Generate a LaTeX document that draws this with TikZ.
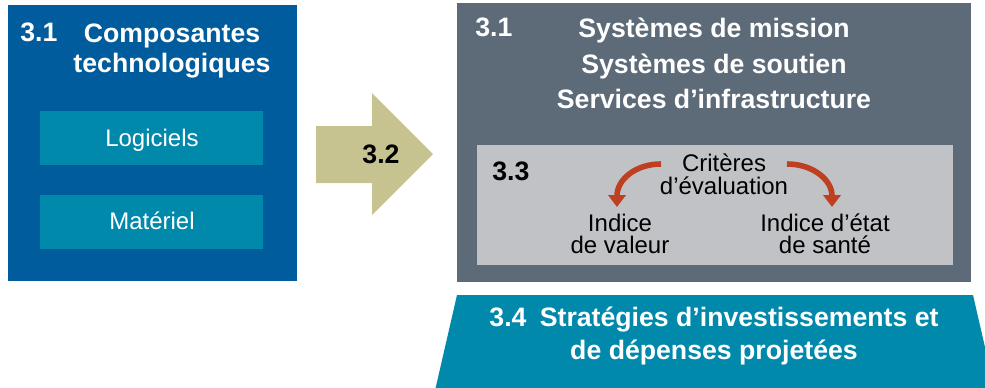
\documentclass[tikz,border=0pt]{standalone}
\usepackage{fontspec}
\setmainfont{Liberation Sans}
\usetikzlibrary{arrows.meta}
\definecolor{techblue}{RGB}{0,92,157}
\definecolor{tealbox}{RGB}{0,137,171}
\definecolor{khaki}{RGB}{199,195,145}
\definecolor{slategray}{RGB}{93,107,121}
\definecolor{palegray}{RGB}{192,194,198}
\definecolor{rust}{RGB}{190,64,33}
\tikzset{
  head/.style={font=\bfseries\fontsize{20}{24}\selectfont, text=white, inner sep=0pt, anchor=base},
  body/.style={font=\fontsize{18}{20}\selectfont, text=black, inner sep=0pt, anchor=base},
  critarrow/.style={draw=rust, line width=4.2pt, -{Triangle[width=13pt,length=9pt]}}
}

\begin{document}
\begin{tikzpicture}[x=0.75pt,y=-0.75pt]
\useasboundingbox (0,0) rectangle (985,387);
\clip (0,0) rectangle (985,387);
% composantes technologiques
\fill[techblue] (8,5) rectangle (297,281);
\fill[tealbox] (40,111) rectangle (263,165);
\fill[tealbox] (40,195) rectangle (263,249);
\node (numA) at (20,41)[head, anchor=base west] {3.1};
\node (comp) at (172,42)[head] {Composantes};
\node (techn) at (172,72)[head] {technologiques};
\node (logi) at (152,146)[body, text=white] {Logiciels};
\node (mat) at (152,229)[body, text=white] {Matériel};
% fleche 3.2
\fill[khaki] (316,126) -- (372,126) -- (372,93) -- (433,154) -- (372,215) -- (372,183) -- (316,183) -- cycle;
\node (numB) at (381,163)[head, text=black] {3.2};
% systemes
\fill[slategray] (457,3) rectangle (971,282);
\node (numC) at (475,36)[head, anchor=base west] {3.1};
\node (sysm) at (714,37)[head] {Systèmes de mission};
\node (syss) at (714,73)[head] {Systèmes de soutien};
\node (serv) at (714,108)[head] {Services d’infrastructure};
% criteres
\fill[palegray] (477,145) rectangle (953,265);
\node (numD) at (492,180)[head, text=black, anchor=base west] {3.3};
\node (crit) at (724,171)[body] {Critères};
\node (eval) at (724,194)[body] {d’évaluation};
\node (ival) at (620,231)[body] {Indice};
\node (dval) at (620,253)[body] {de valeur};
\node (ietat) at (825,231)[body] {Indice d’état};
\node (dsante) at (825,253)[body] {de santé};
\coordinate (lt) at (661,164);
\coordinate (lh) at (617,207);
\coordinate (rt) at (787,164);
\coordinate (rh) at (832,207);
\draw[critarrow] (lt) .. controls (635,164) and (617,180) .. (lh);
\draw[critarrow] (rt) .. controls (813,164) and (832,180) .. (rh);
% strategies
\fill[tealbox] (457,295) -- (973,295) -- (996,395) -- (434,395) -- cycle;
\node (strat) at (714,326)[head] {3.4\enspace Stratégies d’investissements et};
\node (dep) at (714,359)[head] {de dépenses projetées};
\end{tikzpicture}
\end{document}
